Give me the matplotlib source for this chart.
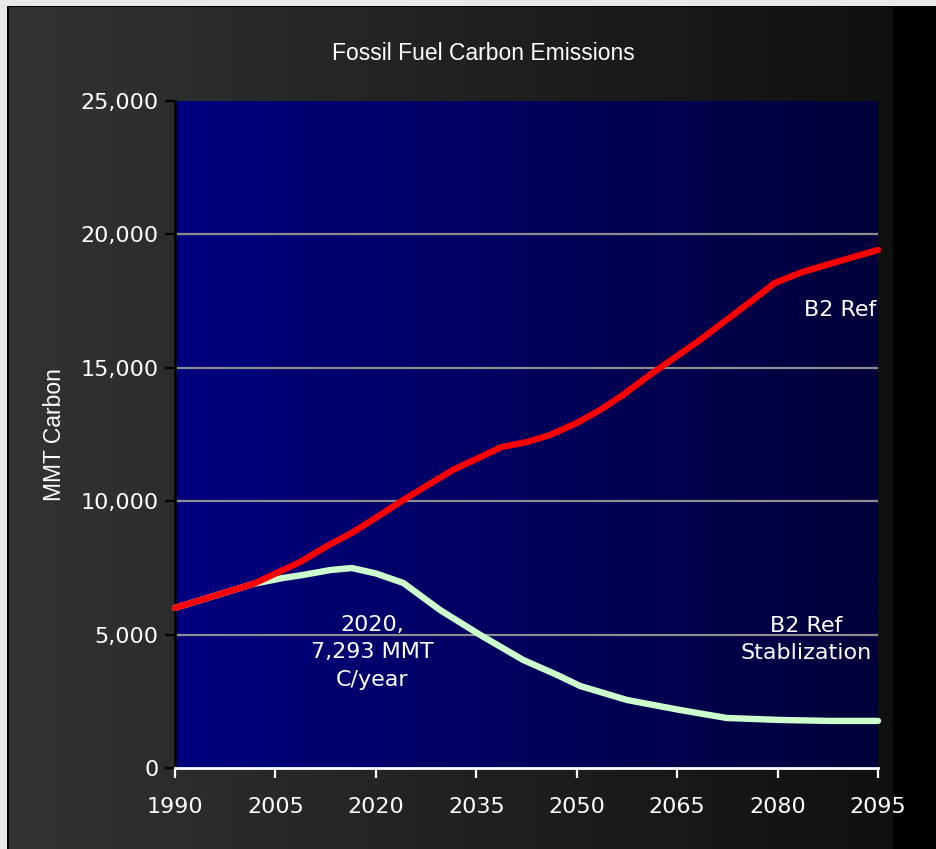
import matplotlib
matplotlib.use("Agg")
import matplotlib.pyplot as plt
import numpy as np

# B2 reference path (MMT carbon per year)
ref_years = [1990, 2001.7, 2005.2, 2008.7, 2012.7, 2016.4, 2020.2, 2024.1, 2031.5,
             2038.8, 2042.6, 2046.0, 2050.0, 2053.5, 2056.9, 2060.9, 2068.4,
             2076.3, 2079.6, 2083.7, 2090.8, 2095]
ref_vals = [6000, 6900, 7310, 7720, 8320, 8810, 9410, 10045, 11170,
            12030, 12220, 12480, 12930, 13420, 13980, 14730, 16040,
            17540, 18180, 18590, 19115, 19415]

# B2 reference stabilization path
stab_years = [1990, 2001.7, 2006.1, 2009.1, 2013.2, 2016.4, 2020, 2024.1, 2029.6,
              2035.6, 2042.0, 2047.1, 2050.5, 2057.5, 2065.4, 2072.4, 2080.4,
              2087.8, 2095]
stab_vals = [6000, 6900, 7120, 7235, 7420, 7495, 7293, 6935, 5920,
             4985, 4050, 3485, 3075, 2550, 2175, 1875, 1800,
             1765, 1765]

x_ticks = [1990, 2005, 2020, 2035, 2050, 2065, 2080, 2095]
y_ticks = [0, 5000, 10000, 15000, 20000, 25000]

W, H = 937, 849
fig = plt.figure(figsize=(W / 100, H / 100), dpi=100)

# dark slide panel behind everything
bg = fig.add_axes([0, 0, 1, 1], zorder=-10)
img = np.zeros((H, W, 3))
cols = np.arange(W)
shade = np.interp(cols, [8, 893], [0x33, 0x10]) / 255
img[:, :, :] = shade[None, :, None]
img[:, 893:, :] = 0
img[:, :7, :] = 0.91
img[:6, :, :] = 0.91
img[6:, 7:9, :] = 0.0
img[6:7, 7:, :] = 0.0
bg.imshow(img, aspect="auto", extent=[0, W, H, 0])
bg.axis("off")

ax = fig.add_axes([175 / W, 1 - 768 / H, (878 - 175) / W, (768 - 101) / H])
ax.set_xlim(1990, 2095)
ax.set_ylim(0, 25000)

# blue gradient fill of the plotting area
grad = np.linspace(0, 1, 256)
blue = np.zeros((1, 256, 3))
blue[0, :, 2] = (0x80 + (0x3a - 0x80) * grad) / 255
ax.imshow(blue, aspect="auto", extent=[1990, 2095, 0, 25000], zorder=0)

for v in y_ticks[1:-1]:
    ax.axhline(v, color="#8c8c8c", lw=1.6, zorder=1)

ax.plot(stab_years, stab_vals, color="#ccffcc", lw=4.6, solid_capstyle="round",
        solid_joinstyle="round", zorder=3, clip_on=False)
ax.plot(ref_years, ref_vals, color="#ff0000", lw=4.6, solid_capstyle="round",
        solid_joinstyle="round", zorder=4, clip_on=False)

ax.set_xticks(x_ticks)
ax.set_xticklabels([str(t) for t in x_ticks])
ax.set_yticks(y_ticks)
ax.set_yticklabels([f"{t:,}" for t in y_ticks])
ax.tick_params(axis="x", colors="white", labelsize=16, length=7, width=1.6, pad=14)
ax.tick_params(axis="y", colors="black", labelcolor="white", labelsize=16,
               length=7, width=1.6, pad=5)

for side in ["top", "right"]:
    ax.spines[side].set_visible(False)
ax.spines["left"].set_color("black")
ax.spines["left"].set_linewidth(2)
ax.spines["bottom"].set_color("white")
ax.spines["bottom"].set_linewidth(2)

ax.text(2019.5, 4330, "2020,\n7,293 MMT\nC/year", color="white", fontsize=16,
        ha="center", va="center", linespacing=1.45, zorder=5)
ax.text(2089.3, 17170, "B2 Ref", color="white", fontsize=16,
        ha="center", va="center", zorder=5)
ax.text(2084.2, 4830, "B2 Ref\nStablization", color="white", fontsize=16,
        ha="center", va="center", linespacing=1.45, zorder=5)

fig.text(483 / W, 1 - 53 / H, "Fossil Fuel Carbon Emissions", color="white",
         fontsize=16.5, family="Liberation Sans", ha="center", va="center")
fig.text(55 / W, 1 - 435 / H, "MMT Carbon", color="white", fontsize=16.5,
         family="Liberation Sans", rotation=90, ha="center", va="center")

fig.savefig("out.png", dpi=100)
